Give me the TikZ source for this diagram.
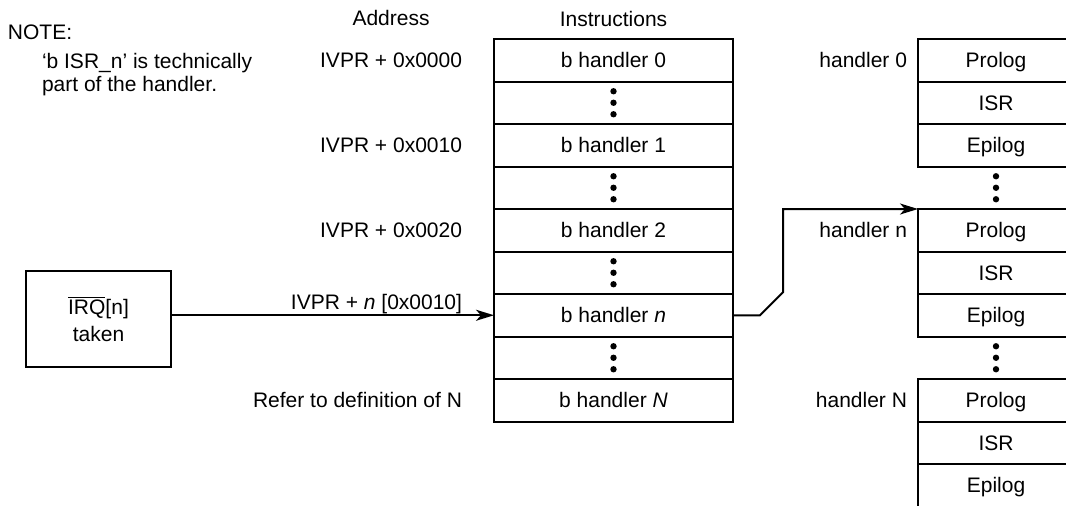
\documentclass[tikz,border=0pt]{standalone}
\usepackage{fontspec}
\setmainfont{Liberation Sans}
\usetikzlibrary{
    positioning,
    arrows.meta
}

\tikzset{
    cell/.style={draw, line width=1pt, minimum width=119.5pt, minimum height=21.25pt,
        inner sep=0pt, outer sep=0pt, text depth=0pt},
    hcell/.style={cell, minimum width=78pt},
    gap/.style={minimum width=78pt, minimum height=21.25pt, inner sep=0pt, outer sep=0pt},
    lbl/.style={inner sep=0pt, outer sep=0pt},
    conn/.style={line width=1pt, -{Stealth[length=9pt, width=5.5pt, inset=2.5pt]}}
}
\newcommand{\stackdots}[1]{%
    \foreach \d in {-5.75,0,5.75}
        \fill ([yshift=\d pt]#1.center) circle (1.6pt);}

\begin{document}
\begin{tikzpicture}[x=0.5pt, y=-0.5pt, font=\fontsize{10.5}{11.5}\selectfont]

    \useasboundingbox (0,0) rectangle (1066,505);
    \clip (0,0) rectangle (1066,505);

    % vector table
    \node[cell] (b0) at (613.5,60.25) {b handler 0};
    \node[cell, below=0pt of b0] (d1) {};
    \node[cell, below=0pt of d1] (b1) {b handler 1};
    \node[cell, below=0pt of b1] (d2) {};
    \node[cell, below=0pt of d2] (b2) {b handler 2};
    \node[cell, below=0pt of b2] (d3) {};
    \node[cell, below=0pt of d3] (bn) {b handler \textit{n}};
    \node[cell, below=0pt of bn] (d4) {};
    \node[cell, below=0pt of d4] (bN) {b handler \textit{N}};
    \stackdots{d1} \stackdots{d2} \stackdots{d3} \stackdots{d4}

    % addresses
    \node[lbl, left=16pt of b0] (a0) {IVPR + 0x0000};
    \node[lbl, left=16pt of b1] (a1) {IVPR + 0x0010};
    \node[lbl, left=16pt of b2] (a2) {IVPR + 0x0020};
    \node[lbl, left=16pt of bN] (aN) {Refer to definition of N};

    \path (a0) ++(0,-42) node[lbl] (addr) {Address};
    \path (b0) ++(0,-41) node[lbl] (instr) {Instructions};

    % handlers
    \node[hcell] (p0) at (996,60.25) {Prolog};
    \node[hcell, below=0pt of p0] (s0) {ISR};
    \node[hcell, below=0pt of s0] (e0) {Epilog};
    \node[gap, below=0pt of e0] (g1) {};
    \node[hcell, below=0pt of g1] (pn) {Prolog};
    \node[hcell, below=0pt of pn] (sn) {ISR};
    \node[hcell, below=0pt of sn] (en) {Epilog};
    \node[gap, below=0pt of en] (g2) {};
    \node[hcell, below=0pt of g2] (pN) {Prolog};
    \node[hcell, below=0pt of pN] (sN) {ISR};
    \node[hcell, below=0pt of sN] (eN) {Epilog};
    \stackdots{g1} \stackdots{g2}

    \node[lbl, left=5.5pt of p0] (h0) {handler 0};
    \node[lbl, left=5.5pt of pn] (hn) {handler n};
    \node[lbl, left=5.5pt of pN] (hN) {handler N};

    % interrupt
    \node[draw, line width=1pt, minimum width=72.5pt, minimum height=48pt, align=center]
        (irq) at (98.5,319) {$\overline{\mbox{IRQ}}$[n]\\[2pt]taken};
    \draw[conn] (irq.east |- bn.west) -- (bn.west);
    \node[lbl, anchor=base east] (alab) at ([xshift=-16pt,yshift=3pt]bn.west)
        {IVPR + \textit{n} [0x0010]};

    \draw[conn] (bn.east) -- ++(13.5pt,0) -- ++(11.5pt,11.5pt) |- (pn.north west);

    % note
    \node[lbl, anchor=west] (note) at (8,32) {NOTE:};
    \node[lbl, align=left, anchor=north west] (notetxt) at (42,53)
        {‘b ISR\_n’ is technically\\part of the handler.};

\end{tikzpicture}
\end{document}
